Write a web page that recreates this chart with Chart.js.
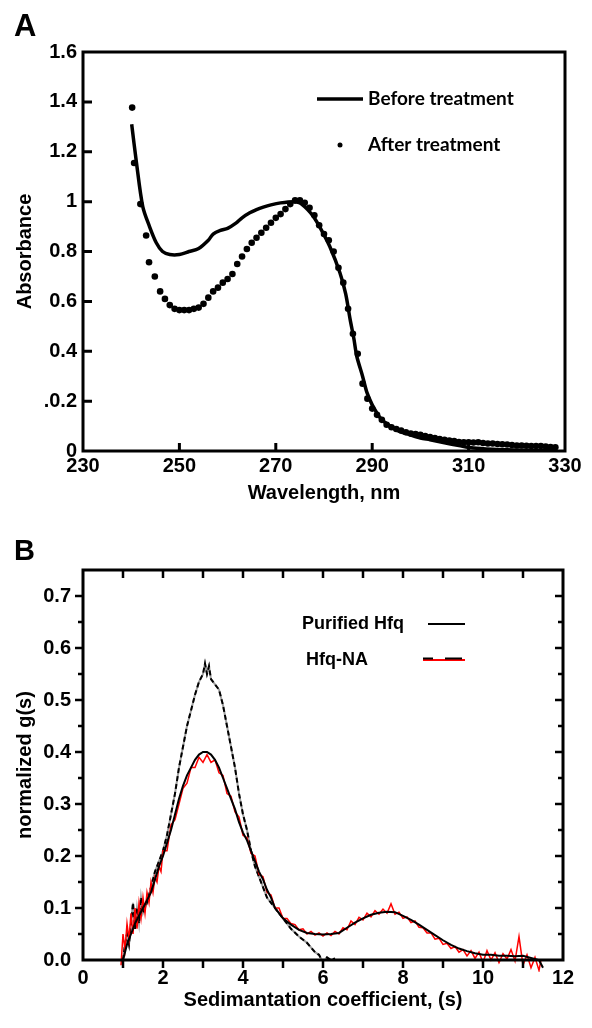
<!DOCTYPE html>
<html>
<head>
<meta charset="utf-8">
<script src="https://cdn.jsdelivr.net/npm/chart.js@4.4.0/dist/chart.umd.min.js"></script>
<style>
    body { margin: 0; background: #fff; }
    canvas { position: absolute; left: 0; }
</style>
</head>
<body>
<canvas id="chartA" width="592" height="520" style="top:0"></canvas>
<canvas id="chartB" width="592" height="508" style="top:520px"></canvas>
<script>
// Panel A - absorbance spectra
const beforeWavelength = [240.1, 241.1, 242.4, 243.8, 245.2, 246.5, 248, 250, 252, 254, 256, 257, 258.5, 260, 261.8, 263, 264.6, 266, 267.4, 269,
    271, 273.6, 275, 276.5, 277.8, 279.5, 281.2, 283.3, 284.5, 285.4, 286.2, 286.8, 288, 288.9, 290, 290.9, 292, 293.7, 295.5, 297.8,
    300, 302, 305, 308, 311, 315, 320, 325, 328];
const beforeAbsorbance = [1.31, 1.155, 0.98, 0.90, 0.835, 0.80, 0.788, 0.788, 0.80, 0.812, 0.845, 0.87, 0.885, 0.893, 0.915, 0.935, 0.955, 0.968, 0.978, 0.987,
    0.995, 1.0, 0.995, 0.97, 0.94, 0.885, 0.82, 0.715, 0.63, 0.53, 0.45, 0.38, 0.30, 0.235, 0.185, 0.155, 0.125, 0.10, 0.08, 0.065,
    0.052, 0.045, 0.033, 0.022, 0.012, 0.007, 0.004, 0.002, 0.001];

const afterWavelength = [240.2, 240.6, 241.9, 243.1, 243.7, 244.9, 246, 247, 248, 249, 250, 251, 252, 253, 254, 255, 256, 257, 258, 259,
    260, 261, 262, 263, 264, 265, 266, 267, 268, 269, 270, 271, 272, 273, 274, 275, 276, 277, 278, 279,
    280, 281, 282, 283, 284, 285, 286, 287, 288, 289, 290, 291, 292, 293, 294, 295, 296, 297, 298, 299,
    300, 301, 302, 303, 304, 305, 306, 307, 308, 309, 310, 311, 312, 313, 314, 315, 316, 317, 318, 319,
    320, 321, 322, 323, 324, 325, 326, 327, 328];
const afterAbsorbance = [1.377, 1.155, 0.99, 0.864, 0.757, 0.70, 0.64, 0.61, 0.585, 0.57, 0.565, 0.565, 0.565, 0.57, 0.575, 0.59, 0.615, 0.64, 0.655, 0.675,
    0.69, 0.71, 0.75, 0.78, 0.81, 0.835, 0.855, 0.875, 0.895, 0.915, 0.935, 0.95, 0.97, 0.99, 1.005, 1.005, 0.995, 0.975, 0.945, 0.905,
    0.87, 0.845, 0.80, 0.735, 0.675, 0.57, 0.47, 0.39, 0.27, 0.21, 0.17, 0.145, 0.125, 0.105, 0.095, 0.088, 0.082, 0.075, 0.07, 0.068,
    0.065, 0.06, 0.056, 0.052, 0.048, 0.045, 0.042, 0.04, 0.036, 0.035, 0.035, 0.034, 0.035, 0.032, 0.03, 0.03, 0.028, 0.027, 0.026, 0.024,
    0.022, 0.022, 0.021, 0.02, 0.02, 0.02, 0.018, 0.016, 0.015];

const xTicksA = [230, 250, 270, 290, 310, 330];
const yTicksA = [0, 0.2, 0.4, 0.6, 0.8, 1, 1.2, 1.4, 1.6];
const yTickLabelsA = ['0', '.0.2', '0.4', '0.6', '0.8', '1', '1.2', '1.4', '1.6'];
const xInnerTicksA = [250, 270, 290, 310];
const yInnerTicksA = [0.2, 0.4, 0.6, 0.8, 1, 1.2, 1.4];

// Panel B - sedimentation coefficient distributions
const purifiedS = [1.0, 1.05, 1.1, 1.15, 1.2, 1.25, 1.3, 1.35, 1.4, 1.45, 1.5, 1.6, 1.7, 1.8, 1.9, 2.0, 2.1, 2.2, 2.3, 2.4,
    2.5, 2.6, 2.7, 2.8, 2.9, 3.0, 3.05, 3.1, 3.15, 3.2, 3.3, 3.4, 3.5, 3.6, 3.7, 3.8, 3.9, 4.0, 4.1, 4.2,
    4.3, 4.4, 4.5, 4.6, 4.7, 4.8, 4.9, 5.0, 5.2, 5.4, 5.6, 5.8, 5.9, 6.0, 6.1, 6.2, 6.3];
const purifiedG = [0.0, 0.03, 0.05, 0.03, 0.07, 0.11, 0.06, 0.10, 0.07, 0.12, 0.09, 0.11, 0.14, 0.17, 0.19, 0.21, 0.24, 0.28, 0.32, 0.37,
    0.41, 0.45, 0.48, 0.51, 0.535, 0.55, 0.57, 0.55, 0.565, 0.54, 0.53, 0.52, 0.49, 0.45, 0.41, 0.37, 0.32, 0.28, 0.25, 0.21,
    0.18, 0.16, 0.14, 0.12, 0.11, 0.10, 0.09, 0.08, 0.06, 0.045, 0.033, 0.015, 0.01, -0.005, 0.005, 0.0, 0.003];

const hfqNaFitS = [1.0, 1.1, 1.2, 1.3, 1.4, 1.5, 1.6, 1.7, 1.8, 1.9, 2.0, 2.1, 2.2, 2.3, 2.4, 2.5, 2.6, 2.7, 2.8, 2.9,
    3.0, 3.1, 3.2, 3.3, 3.4, 3.5, 3.6, 3.7, 3.8, 3.9, 4.0, 4.1, 4.2, 4.3, 4.4, 4.5, 4.6, 4.7, 4.8, 4.9,
    5.0, 5.2, 5.4, 5.6, 5.8, 6.0, 6.2, 6.4, 6.6, 6.8, 7.0, 7.2, 7.4, 7.6, 7.8, 8.0, 8.2, 8.4, 8.6, 8.8,
    9.0, 9.2, 9.4, 9.6, 9.8, 10.0, 10.2, 10.4, 10.6, 10.8, 11.0, 11.2, 11.4, 11.5];
const hfqNaFitG = [0.0, 0.03, 0.05, 0.07, 0.085, 0.10, 0.115, 0.13, 0.155, 0.18, 0.20, 0.225, 0.25, 0.28, 0.31, 0.335, 0.355, 0.37, 0.385, 0.395,
    0.40, 0.40, 0.395, 0.385, 0.37, 0.35, 0.33, 0.31, 0.29, 0.265, 0.245, 0.23, 0.21, 0.19, 0.17, 0.155, 0.135, 0.12, 0.10, 0.09,
    0.08, 0.068, 0.058, 0.052, 0.05, 0.049, 0.05, 0.052, 0.062, 0.072, 0.08, 0.087, 0.091, 0.093, 0.092, 0.085, 0.077, 0.068, 0.058, 0.048,
    0.038, 0.029, 0.022, 0.017, 0.013, 0.01, 0.01, 0.008, 0.008, 0.007, 0.008, 0.004, 0.0, -0.015];

const hfqNaRawS = [0.95, 1.0, 1.05, 1.1, 1.15, 1.2, 1.25, 1.3, 1.35, 1.4, 1.45, 1.5, 1.55, 1.6, 1.65, 1.7, 1.75, 1.8, 1.85, 1.9,
    1.95, 2.0, 2.1, 2.2, 2.3, 2.4, 2.5, 2.6, 2.7, 2.8, 2.9, 3.0, 3.1, 3.2, 3.3, 3.4, 3.5, 3.6, 3.7, 3.8,
    3.9, 4.0, 4.1, 4.2, 4.3, 4.4, 4.5, 4.6, 4.7, 4.8, 4.9, 5.0, 5.1, 5.2, 5.3, 5.4, 5.5, 5.6, 5.7, 5.8,
    5.9, 6.0, 6.1, 6.2, 6.3, 6.4, 6.5, 6.6, 6.7, 6.8, 6.9, 7.0, 7.1, 7.2, 7.3, 7.4, 7.5, 7.6, 7.7, 7.8,
    7.9, 8.0, 8.1, 8.2, 8.3, 8.4, 8.5, 8.6, 8.7, 8.8, 8.9, 9.0, 9.1, 9.2, 9.3, 9.4, 9.5, 9.6, 9.7, 9.8,
    9.9, 10.0, 10.1, 10.2, 10.3, 10.4, 10.5, 10.6, 10.7, 10.8, 10.9, 11.0, 11.1, 11.2, 11.3, 11.4, 11.45];
const hfqNaRawG = [-0.01, 0.05, 0.02, 0.07, 0.04, 0.09, 0.05, 0.10, 0.06, 0.11, 0.08, 0.12, 0.09, 0.13, 0.11, 0.15, 0.13, 0.16, 0.15, 0.18,
    0.17, 0.21, 0.21, 0.26, 0.27, 0.30, 0.33, 0.34, 0.37, 0.37, 0.39, 0.38, 0.395, 0.38, 0.385, 0.36, 0.355, 0.32, 0.315, 0.285,
    0.275, 0.24, 0.235, 0.205, 0.20, 0.165, 0.16, 0.13, 0.125, 0.10, 0.10, 0.08, 0.08, 0.07, 0.068, 0.058, 0.06, 0.05, 0.055, 0.048,
    0.052, 0.046, 0.052, 0.047, 0.055, 0.05, 0.062, 0.058, 0.075, 0.068, 0.082, 0.077, 0.09, 0.083, 0.095, 0.088, 0.098, 0.09, 0.108, 0.088,
    0.092, 0.08, 0.083, 0.072, 0.075, 0.063, 0.062, 0.052, 0.052, 0.04, 0.042, 0.03, 0.032, 0.022, 0.026, 0.015, 0.02, 0.008, 0.018, 0.003,
    0.015, -0.005, 0.018, 0.0, 0.014, -0.005, 0.012, 0.002, 0.02, -0.002, 0.045, -0.01, 0.01, -0.015, 0.005, -0.02, 0.0];

const xTicksB = [0, 2, 4, 6, 8, 10, 12];
const yTicksB = [0, 0.1, 0.2, 0.3, 0.4, 0.5, 0.6, 0.7];
const xMarksB = [1, 2, 3, 4, 5, 6, 7, 8, 9, 10, 11];
const yMarksB = [0.05, 0.1, 0.15, 0.2, 0.25, 0.3, 0.35, 0.4, 0.45, 0.5, 0.55, 0.6, 0.65, 0.7];

const arial = "'Liberation Sans', Arial, sans-serif";
const zip = (xs, ys) => xs.map((x, i) => ({x: x, y: ys[i]}));

// frame, inner ticks, panel letter and legend
const panelAExtras = {
    id: 'panelAExtras',
    afterDraw(chart) {
        const {ctx, chartArea: a, scales} = chart;
        ctx.save();
        ctx.strokeStyle = '#000';
        ctx.lineWidth = 3;
        ctx.strokeRect(a.left, a.top, a.right - a.left, a.bottom - a.top);
        ctx.beginPath();
        xInnerTicksA.forEach(v => {
            const px = scales.x.getPixelForValue(v);
            ctx.moveTo(px, a.bottom);
            ctx.lineTo(px, a.bottom - 8);
        });
        yInnerTicksA.forEach(v => {
            const py = scales.y.getPixelForValue(v);
            ctx.moveTo(a.left, py);
            ctx.lineTo(a.left + 9, py);
        });
        ctx.stroke();

        ctx.fillStyle = '#000';
        ctx.font = "bold 31px " + arial;
        ctx.textBaseline = 'alphabetic';
        ctx.fillText('A', 14, 36);

        // legend
        const ds = chart.data.datasets;
        ctx.font = "bold 19px Lato, 'Open Sans', sans-serif";
        ctx.textBaseline = 'middle';
        ctx.lineWidth = 3.5;
        ctx.beginPath();
        ctx.moveTo(317, 99);
        ctx.lineTo(363, 99);
        ctx.stroke();
        ctx.fillText(ds[0].label, 368, 99);
        ctx.beginPath();
        ctx.arc(340, 145, 2.5, 0, Math.PI * 2);
        ctx.fill();
        ctx.fillText(ds[1].label, 368, 145);
        ctx.restore();
    }
};

const panelBExtras = {
    id: 'panelBExtras',
    afterDraw(chart) {
        const {ctx, chartArea: a, scales} = chart;
        ctx.save();
        ctx.strokeStyle = '#000';
        ctx.lineWidth = 3;
        ctx.strokeRect(a.left, a.top, a.right - a.left, a.bottom - a.top);
        ctx.lineWidth = 2.5;
        ctx.beginPath();
        xMarksB.forEach(v => {
            const px = scales.x.getPixelForValue(v);
            ctx.moveTo(px, a.bottom);
            ctx.lineTo(px, a.bottom + 8);
            ctx.moveTo(px, a.top);
            ctx.lineTo(px, a.top + 8);
        });
        yMarksB.forEach(v => {
            const py = scales.y.getPixelForValue(v);
            const len = Math.round(v * 100) % 10 === 0 ? 8 : 5;
            ctx.moveTo(a.left, py);
            ctx.lineTo(a.left - len, py);
            ctx.moveTo(a.right, py);
            ctx.lineTo(a.right - len, py);
        });
        ctx.stroke();

        ctx.fillStyle = '#000';
        ctx.font = "bold 29px " + arial;
        ctx.textBaseline = 'alphabetic';
        ctx.fillText('B', 14, 40);

        // legend
        ctx.font = "bold 18px " + arial;
        ctx.textBaseline = 'middle';
        ctx.fillText('Purified Hfq', 302, 104);
        ctx.fillText('Hfq-NA', 306, 140);
        ctx.lineWidth = 2;
        ctx.strokeStyle = '#000';
        ctx.beginPath();
        ctx.moveTo(428, 104);
        ctx.lineTo(465, 104);
        ctx.stroke();
        ctx.strokeStyle = '#ff0000';
        ctx.beginPath();
        ctx.moveTo(423, 140);
        ctx.lineTo(465, 140);
        ctx.stroke();
        ctx.strokeStyle = '#000';
        ctx.beginPath();
        ctx.moveTo(423, 138.5);
        ctx.lineTo(433, 138.5);
        ctx.moveTo(445, 138.5);
        ctx.lineTo(462, 138.5);
        ctx.stroke();
        ctx.restore();
    }
};

document.addEventListener('DOMContentLoaded', () => {
    const tickFont = {family: arial, size: 20, weight: 'bold'};

    new Chart(document.getElementById('chartA').getContext('2d'), {
        type: 'scatter',
        data: {
            datasets: [
                {
                    label: 'Before treatment',
                    data: zip(beforeWavelength, beforeAbsorbance),
                    showLine: true,
                    borderColor: '#000',
                    borderWidth: 3.5,
                    pointRadius: 0,
                    tension: 0.3
                },
                {
                    label: 'After treatment',
                    data: zip(afterWavelength, afterAbsorbance),
                    showLine: false,
                    pointRadius: 3.3,
                    pointBackgroundColor: '#000',
                    pointBorderWidth: 0
                }
            ]
        },
        options: {
            responsive: false,
            animation: false,
            layout: {padding: {left: 0, top: 52, right: 27, bottom: 0}},
            plugins: {legend: {display: false}, tooltip: {enabled: false}},
            scales: {
                x: {
                    type: 'linear',
                    min: 230,
                    max: 330,
                    afterBuildTicks: s => { s.ticks = xTicksA.map(v => ({value: v})); },
                    afterFit: s => { s.height = 69; },
                    grid: {display: false, drawTicks: false},
                    border: {display: false},
                    ticks: {font: tickFont, color: '#000', padding: 3, maxRotation: 0, autoSkip: false},
                    title: {display: true, text: 'Wavelength, nm', color: '#000', font: tickFont, padding: {top: 0, bottom: 15}}
                },
                y: {
                    min: 0,
                    max: 1.6,
                    afterBuildTicks: s => { s.ticks = yTicksA.map(v => ({value: v})); },
                    afterFit: s => { s.width = 83; },
                    grid: {display: false, drawTicks: false},
                    border: {display: false},
                    ticks: {
                        font: tickFont,
                        color: '#000',
                        padding: 6,
                        autoSkip: false,
                        callback: value => yTickLabelsA[yTicksA.indexOf(value)]
                    },
                    title: {display: true, text: 'Absorbance', color: '#000', font: tickFont, padding: {top: 13, bottom: 0}}
                }
            }
        },
        plugins: [panelAExtras]
    });

    new Chart(document.getElementById('chartB').getContext('2d'), {
        type: 'scatter',
        data: {
            datasets: [
                {
                    label: 'Purified Hfq',
                    data: zip(purifiedS, purifiedG),
                    showLine: true,
                    borderColor: '#a0a0a0',
                    borderWidth: 2,
                    pointRadius: 0,
                    order: 4
                },
                {
                    label: 'Purified Hfq dashes',
                    data: zip(purifiedS, purifiedG),
                    showLine: true,
                    borderColor: '#000',
                    borderWidth: 2,
                    borderDash: [5, 3],
                    pointRadius: 0,
                    order: 3
                },
                {
                    label: 'Hfq-NA',
                    data: zip(hfqNaRawS, hfqNaRawG),
                    showLine: true,
                    borderColor: '#ff0000',
                    borderWidth: 1.5,
                    pointRadius: 0,
                    order: 2,
                    clip: {left: 4, top: 4, right: 4, bottom: 12}
                },
                {
                    label: 'Hfq-NA fit',
                    data: zip(hfqNaFitS, hfqNaFitG),
                    showLine: true,
                    borderColor: '#000',
                    borderWidth: 2,
                    pointRadius: 0,
                    order: 1,
                    clip: {left: 4, top: 4, right: 4, bottom: 12}
                }
            ]
        },
        options: {
            responsive: false,
            animation: false,
            layout: {padding: {left: 0, top: 50, right: 29, bottom: 0}},
            plugins: {legend: {display: false}, tooltip: {enabled: false}},
            scales: {
                x: {
                    type: 'linear',
                    min: 0,
                    max: 12,
                    afterBuildTicks: s => { s.ticks = xTicksB.map(v => ({value: v})); },
                    afterFit: s => { s.height = 68; },
                    grid: {display: false, drawTicks: false},
                    border: {display: false},
                    ticks: {font: tickFont, color: '#000', padding: 6, maxRotation: 0, autoSkip: false},
                    title: {display: true, text: 'Sedimantation coefficient, (s)', color: '#000', font: tickFont, padding: {top: 0, bottom: 16}}
                },
                y: {
                    min: 0,
                    max: 0.75,
                    afterBuildTicks: s => { s.ticks = yTicksB.map(v => ({value: v})); },
                    afterFit: s => { s.width = 83; },
                    grid: {display: false, drawTicks: false},
                    border: {display: false},
                    ticks: {
                        font: tickFont,
                        color: '#000',
                        padding: 12,
                        autoSkip: false,
                        callback: value => value.toFixed(1)
                    },
                    title: {display: true, text: 'normalized g(s)', color: '#000', font: tickFont, padding: {top: 13, bottom: 0}}
                }
            }
        },
        plugins: [panelBExtras]
    });
});
</script>
</body>
</html>
